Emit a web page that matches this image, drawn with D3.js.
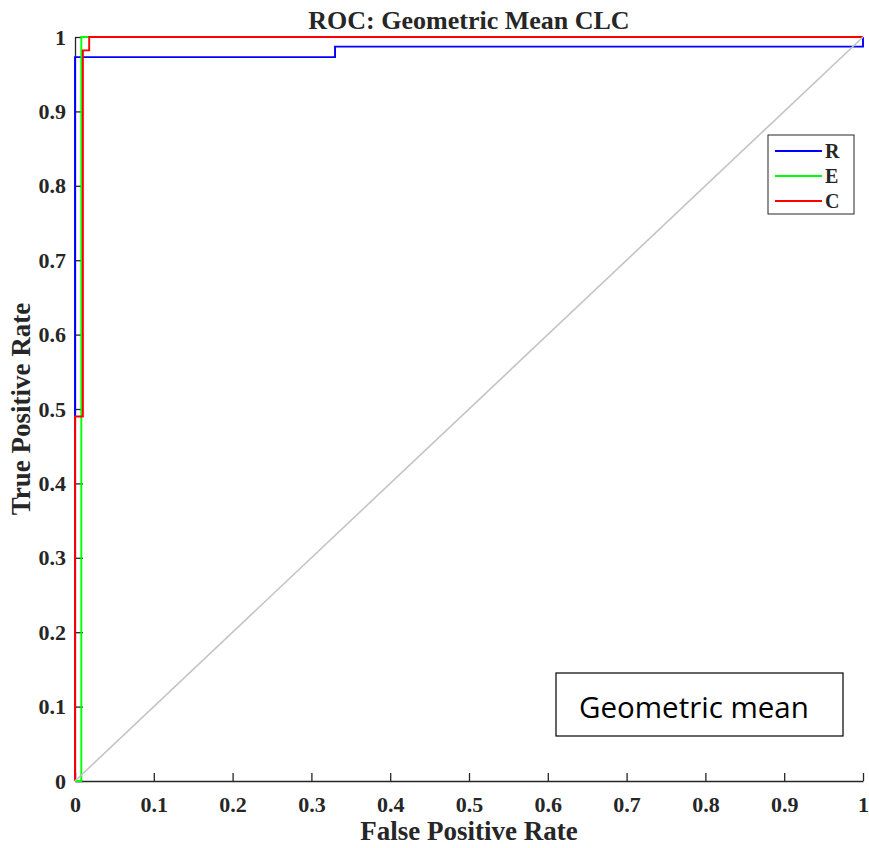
<!DOCTYPE html>
<html>
<head>
<meta charset="utf-8">
<script src="https://cdn.jsdelivr.net/npm/d3@7"></script>
<style>
  body { margin: 0; background: #fff; }
  .tick text { font-family: "Liberation Serif", "Times New Roman", serif; font-weight: bold; font-size: 22px; fill: #262626; }
  .axis path, .axis line { stroke: #262626; stroke-width: 1.3; }
  .lbl { font-family: "Liberation Serif", "Times New Roman", serif; font-weight: bold; fill: #262626; }
</style>
</head>
<body>
<div id="chart"></div>
<script>
var W = 869, H = 848;
var margin = { top: 37, right: 6, bottom: 67, left: 75 };

// ROC curves
var fprR = [0, 0, 0.33, 0.33, 1, 1];
var tprR = [0, 0.973, 0.973, 0.987, 0.987, 1];
var fprE = [0, 0.008, 0.008, 1];
var tprE = [0, 0, 1, 1];
var fprC = [0, 0, 0.01, 0.01, 0.018, 0.018, 1];
var tprC = [0, 0.49, 0.49, 0.982, 0.982, 1, 1];
var diagX = [0, 1];
var diagY = [0, 1];

var names = ["R", "E", "C"];
var colors = ["#0000ff", "#00ff00", "#ff0000"];
var ticks = [0, 0.1, 0.2, 0.3, 0.4, 0.5, 0.6, 0.7, 0.8, 0.9, 1];

var series = [
  { name: "R", x: fprR, y: tprR },
  { name: "E", x: fprE, y: tprE },
  { name: "C", x: fprC, y: tprC }
];

var svg = d3.select("#chart").append("svg").attr("width", W).attr("height", H);

var x = d3.scaleLinear().domain([0, 1]).range([margin.left, W - margin.right]);
var y = d3.scaleLinear().domain([0, 1]).range([H - margin.bottom, margin.top]);

var fmt = function (d) { return d === 0 ? "0" : d === 1 ? "1" : d3.format(".1f")(d); };

svg.append("g")
  .attr("class", "axis")
  .attr("transform", "translate(0," + y(0) + ")")
  .call(d3.axisBottom(x).tickValues(ticks).tickFormat(fmt).tickSizeInner(-8).tickSizeOuter(0).tickPadding(15));

svg.append("g")
  .attr("class", "axis")
  .attr("transform", "translate(" + x(0) + ",0)")
  .call(d3.axisLeft(y).tickValues(ticks).tickFormat(fmt).tickSizeInner(-8).tickSizeOuter(0).tickPadding(9));

var line = d3.line().x(function (d) { return x(d[0]); }).y(function (d) { return y(d[1]); });

series.forEach(function (s, i) {
  svg.append("path")
    .datum(d3.zip(s.x, s.y))
    .attr("d", line)
    .attr("fill", "none")
    .attr("stroke", colors[i])
    .attr("stroke-width", 1.9);
});

svg.append("path")
  .datum(d3.zip(diagX, diagY))
  .attr("d", line)
  .attr("fill", "none")
  .attr("stroke", "#c4c4c4")
  .attr("stroke-width", 1.6);

// title and axis labels
svg.append("text").attr("class", "lbl")
  .attr("x", (margin.left + W - margin.right) / 2).attr("y", 29)
  .attr("text-anchor", "middle").style("font-size", "26px")
  .text("ROC: Geometric Mean CLC");

svg.append("text").attr("class", "lbl")
  .attr("x", (margin.left + W - margin.right) / 2).attr("y", 840)
  .attr("text-anchor", "middle").style("font-size", "27px")
  .text("False Positive Rate");

svg.append("text").attr("class", "lbl")
  .attr("transform", "translate(30," + (margin.top + H - margin.bottom) / 2 + ") rotate(-90)")
  .attr("text-anchor", "middle").style("font-size", "27px")
  .text("True Positive Rate");

// legend
var lg = svg.append("g").attr("transform", "translate(768,135)");
lg.append("rect").attr("width", 86).attr("height", 79)
  .attr("fill", "#fff").attr("stroke", "#262626").attr("stroke-width", 1);
names.forEach(function (n, i) {
  var ly = 16 + i * 25;
  lg.append("line").attr("x1", 7).attr("x2", 54).attr("y1", ly).attr("y2", ly)
    .attr("stroke", colors[i]).attr("stroke-width", 1.8);
  lg.append("text").attr("class", "lbl").attr("x", 57).attr("y", ly + 7)
    .style("font-size", "20px").text(n);
});

// annotation box
var ab = svg.append("g").attr("transform", "translate(556,673)");
ab.append("rect").attr("width", 287).attr("height", 63)
  .attr("fill", "#fff").attr("stroke", "#000").attr("stroke-width", 1.2);
ab.append("text").attr("x", 23).attr("y", 45)
  .style("font-family", "'Open Sans', 'Noto Sans', sans-serif").style("font-size", "29.5px")
  .attr("fill", "#000").text("Geometric mean");
</script>
</body>
</html>
